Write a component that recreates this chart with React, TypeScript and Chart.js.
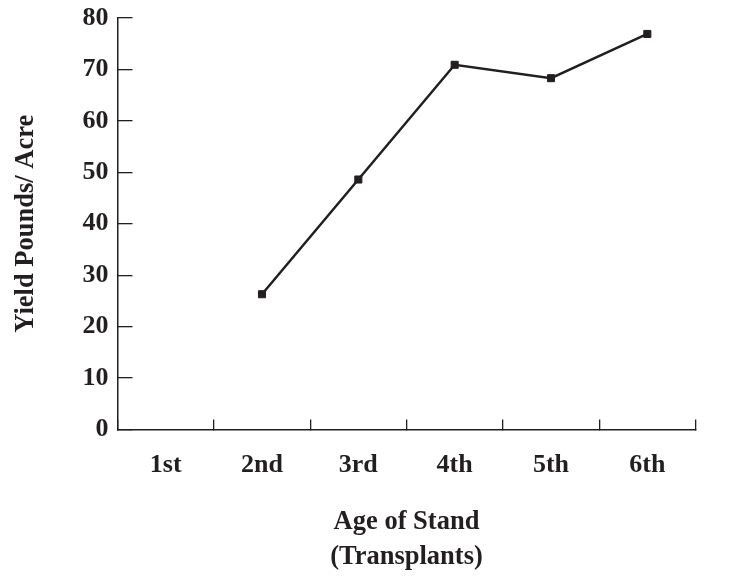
import React, { useEffect, useRef } from "react";
import { Chart, registerables } from "chart.js";

Chart.register(...registerables);

const categories: string[] = ["1st", "2nd", "3rd", "4th", "5th", "6th"];
const yieldValues: (number | null)[] = [null, 26.3, 48.6, 70.9, 68.3, 76.9];
const xTitle: string[] = ["Age of Stand", "(Transplants)"];
const yTitle = "Yield Pounds/ Acre";

const INK = "#231f20";
const FAMILY = "'Liberation Serif', 'Times New Roman', serif";

export default function App() {
  const ref = useRef<HTMLCanvasElement | null>(null);

  useEffect(() => {
    const canvas = ref.current;
    if (!canvas) return;
    const chart = new Chart(canvas, {
      type: "line",
      data: {
        labels: categories,
        datasets: [
          {
            data: yieldValues,
            borderColor: INK,
            backgroundColor: INK,
            borderWidth: 2.5,
            pointStyle: "rect",
            pointRadius: 5,
            pointBorderWidth: 1,
            pointBackgroundColor: INK,
            pointBorderColor: INK,
            tension: 0,
            spanGaps: false,
          },
        ],
      },
      options: {
        responsive: false,
        animation: false,
        layout: { padding: { top: 18, right: 58.5, bottom: 0, left: 0 } },
        plugins: {
          legend: { display: false },
          tooltip: { enabled: false },
        },
        scales: {
          x: {
            type: "category",
            offset: true,
            afterFit: (s: any) => {
              s.height = 156.5;
              s.paddingLeft = 0;
              s.paddingRight = 0;
            },
            grid: {
              offset: true,
              drawOnChartArea: false,
              drawTicks: true,
              tickLength: -10,
              color: INK,
              lineWidth: 1.3,
            },
            border: { display: true, color: INK, width: 1.5 },
            ticks: {
              color: INK,
              padding: 30,
              maxRotation: 0,
              font: { family: FAMILY, size: 26, weight: "bold" },
            },
            title: {
              display: true,
              text: xTitle,
              color: INK,
              padding: { top: 0, bottom: 12 },
              font: { family: FAMILY, size: 26.5, weight: "bold", lineHeight: 1.3 },
            },
          },
          y: {
            min: 0,
            max: 80,
            afterFit: (s: any) => {
              s.width = 117.5;
              s.paddingTop = 0;
              s.paddingBottom = 0;
            },
            grid: {
              drawOnChartArea: false,
              drawTicks: true,
              tickLength: -15,
              color: INK,
              lineWidth: 1.3,
            },
            border: { display: true, color: INK, width: 1.5 },
            ticks: {
              stepSize: 10,
              color: INK,
              padding: 24,
              font: { family: FAMILY, size: 26, weight: "bold" },
            },
            title: {
              display: true,
              text: yTitle,
              color: INK,
              padding: { top: 10, bottom: 0 },
              font: { family: FAMILY, size: 26.5, weight: "bold" },
            },
          },
        },
      },
    });
    return () => chart.destroy();
  }, []);

  return (
    <div style={{ position: "absolute", left: 0, top: 0, width: 754, height: 586, background: "#fff" }}>
      <canvas ref={ref} width={754} height={586} style={{ width: 754, height: 586 }} />
    </div>
  );
}
